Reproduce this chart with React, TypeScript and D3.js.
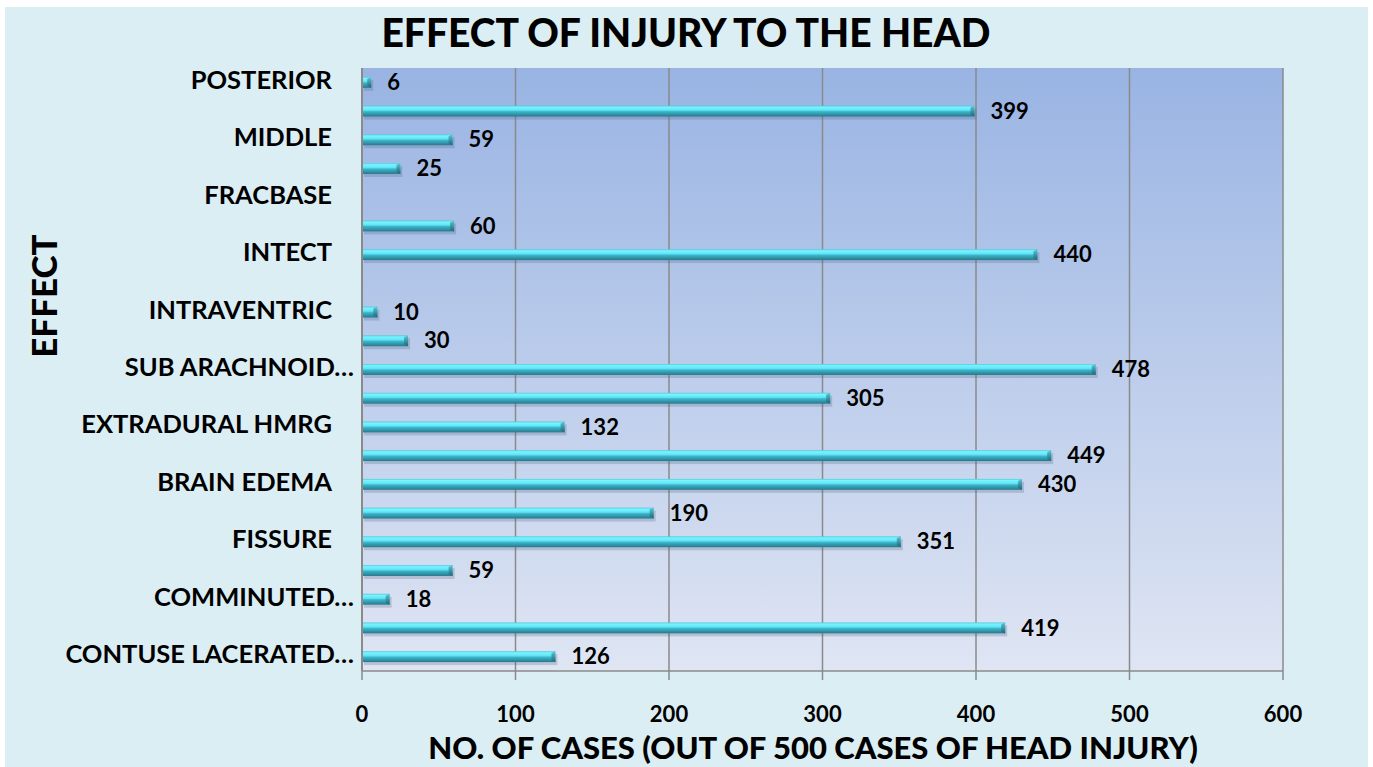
import * as d3 from "d3";
import React from "react";

// bottom to top, like the original sheet
const categories = [
  "c01", "c02", "c03", "c04", "c05", "c06", "c07", "c08", "c09", "c10", "c11",
  "c12", "c13", "c14", "c15", "c16", "c17", "c18", "c19", "c20", "c21",
];
const tickLabels = [
  "CONTUSE LACERATED…", "", "COMMINUTED…", "", "FISSURE", "", "BRAIN EDEMA", "",
  "EXTRADURAL HMRG", "", "SUB ARACHNOID…", "", "INTRAVENTRIC", "", "INTECT", "",
  "FRACBASE", "", "MIDDLE", "", "POSTERIOR",
];
const cases: (number | null)[] = [
  126, 419, 18, 59, 351, 190, 430, 449, 132, 305, 478, 30, 10, null, 440, 60,
  null, 25, 59, 399, 6,
];
const xTicks = [0, 100, 200, 300, 400, 500, 600];

const W = 1373;
const H = 767;
const m = { left: 362, right: 1283, top: 68, bottom: 671 };
const font = "Lato, 'Open Sans', sans-serif";

export default function App() {
  const x = d3.scaleLinear().domain([0, 600]).range([m.left, m.right]);
  const y = d3
    .scaleBand<string>()
    .domain([...categories].reverse())
    .range([m.top, m.bottom])
    .paddingInner(0.62)
    .paddingOuter(0.31);
  const bh = y.bandwidth();

  return (
    <svg
      width={W}
      height={H}
      style={{ position: "absolute", left: 0, top: 0 }}
      fontFamily={font}
    >
      <defs>
        <linearGradient id="plotBg" x1="0" y1="0" x2="0" y2="1">
          <stop offset="0" stopColor="#99B4E3" />
          <stop offset="1" stopColor="#DFE5F3" />
        </linearGradient>
        <linearGradient id="barFill" x1="0" y1="0" x2="0" y2="1">
          <stop offset="0" stopColor="#52CADC" />
          <stop offset="0.15" stopColor="#7AF4FF" />
          <stop offset="0.42" stopColor="#5FE4F5" />
          <stop offset="0.55" stopColor="#3CB6CB" />
          <stop offset="1" stopColor="#28788B" />
        </linearGradient>
        <linearGradient id="capFill" x1="0" y1="0" x2="0" y2="1">
          <stop offset="0" stopColor="#5DC6D8" />
          <stop offset="1" stopColor="#1D6676" />
        </linearGradient>
      </defs>
      <rect x={0} y={0} width={W} height={H} fill="#fff" />
      <rect x={5} y={7} width={1363} height={H - 7} fill="#DBEEF4" />

      <rect
        x={m.left}
        y={m.top}
        width={m.right - m.left}
        height={m.bottom - m.top}
        fill="url(#plotBg)"
      />

      {xTicks.map((t) => (
        <g key={t}>
          {t > 0 && (
            <line
              x1={x(t)}
              x2={x(t)}
              y1={m.top}
              y2={m.bottom}
              stroke="#8A8A8A"
              strokeWidth={1.5}
            />
          )}
          <line
            x1={x(t)}
            x2={x(t)}
            y1={m.bottom}
            y2={m.bottom + 9}
            stroke="#8A8A8A"
            strokeWidth={1.5}
          />
          <text
            x={x(t)}
            y={716}
            textAnchor="middle"
            dominantBaseline="middle"
            fontSize={22}
            fontWeight={700}
          >
            {t}
          </text>
        </g>
      ))}
      <line x1={m.left} x2={m.right} y1={m.bottom} y2={m.bottom} stroke="#8A8A8A" strokeWidth={1.5} />
      <line x1={m.left} x2={m.left} y1={m.top} y2={m.bottom} stroke="#8A8A8A" strokeWidth={2} />

      {categories.map((c, i) => {
        const v = cases[i];
        const yy = y(c)!;
        const cy = yy + bh / 2;
        const lab = tickLabels[i];
        return (
          <g key={c}>
            {lab && (
              <text
                x={lab.endsWith("…") ? 354 : 332}
                y={cy}
                textAnchor="end"
                dominantBaseline="middle"
                fontSize={25.5}
                fontWeight={700}
              >
                {lab}
              </text>
            )}
            {v != null && (
              <g>
                <rect
                  x={m.left + 2}
                  y={yy + 3}
                  width={x(v) - m.left}
                  height={bh}
                  fill="#4a5f80"
                  opacity={0.25}
                />
                <rect
                  x={m.left + 1}
                  y={yy}
                  width={x(v) - m.left - 1}
                  height={bh}
                  fill="url(#barFill)"
                />
                <polygon
                  points={`${x(v) - 4},${yy + 2} ${x(v)},${yy} ${x(v)},${yy + bh} ${x(v) - 4},${yy + bh - 2}`}
                  fill="url(#capFill)"
                />
                <text
                  x={x(v) + 16}
                  y={cy + 2}
                  dominantBaseline="middle"
                  fontSize={22}
                  fontWeight={700}
                >
                  {v}
                </text>
              </g>
            )}
          </g>
        );
      })}

      <text x={686} y={47} textAnchor="middle" fontSize={39} fontWeight={900}>
        EFFECT OF INJURY TO THE HEAD
      </text>
      <text
        transform={`translate(48,296) rotate(-90)`}
        textAnchor="middle"
        dominantBaseline="middle"
        fontSize={35}
        fontWeight={900}
      >
        EFFECT
      </text>
      <text x={813} y={759} textAnchor="middle" fontSize={31} fontWeight={900}>
        NO. OF CASES (OUT OF 500 CASES OF HEAD INJURY)
      </text>
    </svg>
  );
}
